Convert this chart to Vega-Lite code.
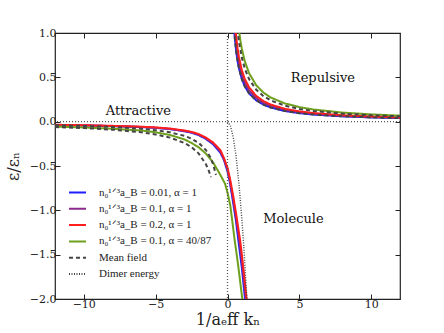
{
  "$schema": "https://vega.github.io/schema/vega-lite/v6.json",
  "width": 345,
  "height": 266,
  "autosize": {"type": "none"},
  "padding": {"left": 55, "top": 33, "right": 44, "bottom": 34},
  "config": {
    "view": {"stroke": "#222", "strokeWidth": 1.2},
    "font": "DejaVu Serif",
    "axis": {"domain": false, "grid": false, "tickSize": -5, "tickColor": "#222", "tickWidth": 1, "labelFont": "DejaVu Serif", "labelFontSize": 11, "labelColor": "#222", "titleFont": "DejaVu Serif", "titleFontSize": 16, "titleFontWeight": "normal", "titleColor": "#222"},
    "legend": {"padding": 0, "labelFont": "Liberation Serif", "labelFontSize": 11, "labelColor": "#222"}
  },
  "datasets": {
    "curves": [
      {"s":"a","g":"a1","x":-12,"y":-0.037},{"s":"a","g":"a1","x":-10,"y":-0.043},{"s":"a","g":"a1","x":-8,"y":-0.05},{"s":"a","g":"a1","x":-6,"y":-0.061},{"s":"a","g":"a1","x":-5,"y":-0.07},{"s":"a","g":"a1","x":-4,"y":-0.084},{"s":"a","g":"a1","x":-3,"y":-0.108},{"s":"a","g":"a1","x":-2.5,"y":-0.125},{"s":"a","g":"a1","x":-2,"y":-0.152},{"s":"a","g":"a1","x":-1.5,"y":-0.195},{"s":"a","g":"a1","x":-1,"y":-0.255},{"s":"a","g":"a1","x":-0.5,"y":-0.35},{"s":"a","g":"a1","x":-0.25,"y":-0.43},{"s":"a","g":"a1","x":0,"y":-0.56},{"s":"a","g":"a1","x":0.17,"y":-0.69},{"s":"a","g":"a1","x":0.4,"y":-0.92},{"s":"a","g":"a1","x":0.6,"y":-1.13},{"s":"a","g":"a1","x":0.75,"y":-1.33},{"s":"a","g":"a1","x":1.0,"y":-1.65},{"s":"a","g":"a1","x":1.22,"y":-2.0},{"s":"a","g":"a1","x":1.3,"y":-2.12},
      {"s":"a","g":"a2","x":0.46,"y":1.04},{"s":"a","g":"a2","x":0.5,"y":0.96},{"s":"a","g":"a2","x":0.6,"y":0.8},{"s":"a","g":"a2","x":0.7,"y":0.686},{"s":"a","g":"a2","x":0.8,"y":0.6},{"s":"a","g":"a2","x":1,"y":0.48},{"s":"a","g":"a2","x":1.2,"y":0.4},{"s":"a","g":"a2","x":1.5,"y":0.32},{"s":"a","g":"a2","x":2,"y":0.24},{"s":"a","g":"a2","x":2.5,"y":0.192},{"s":"a","g":"a2","x":3,"y":0.16},{"s":"a","g":"a2","x":4,"y":0.12},{"s":"a","g":"a2","x":5,"y":0.096},{"s":"a","g":"a2","x":6,"y":0.08},{"s":"a","g":"a2","x":8,"y":0.06},{"s":"a","g":"a2","x":10,"y":0.048},{"s":"a","g":"a2","x":12,"y":0.04},
      {"s":"b","g":"b1","x":-12,"y":-0.036},{"s":"b","g":"b1","x":-10,"y":-0.042},{"s":"b","g":"b1","x":-8,"y":-0.049},{"s":"b","g":"b1","x":-6,"y":-0.059},{"s":"b","g":"b1","x":-5,"y":-0.068},{"s":"b","g":"b1","x":-4,"y":-0.081},{"s":"b","g":"b1","x":-3,"y":-0.104},{"s":"b","g":"b1","x":-2.5,"y":-0.12},{"s":"b","g":"b1","x":-2,"y":-0.146},{"s":"b","g":"b1","x":-1.5,"y":-0.188},{"s":"b","g":"b1","x":-1,"y":-0.245},{"s":"b","g":"b1","x":-0.5,"y":-0.335},{"s":"b","g":"b1","x":-0.25,"y":-0.42},{"s":"b","g":"b1","x":0,"y":-0.54},{"s":"b","g":"b1","x":0.17,"y":-0.665},{"s":"b","g":"b1","x":0.4,"y":-0.88},{"s":"b","g":"b1","x":0.6,"y":-1.085},{"s":"b","g":"b1","x":0.8,"y":-1.31},{"s":"b","g":"b1","x":1.0,"y":-1.57},{"s":"b","g":"b1","x":1.2,"y":-1.87},{"s":"b","g":"b1","x":1.3,"y":-2.03},{"s":"b","g":"b1","x":1.35,"y":-2.1},
      {"s":"b","g":"b2","x":0.5,"y":1.06},{"s":"b","g":"b2","x":0.6,"y":0.883},{"s":"b","g":"b2","x":0.7,"y":0.757},{"s":"b","g":"b2","x":0.8,"y":0.663},{"s":"b","g":"b2","x":1,"y":0.53},{"s":"b","g":"b2","x":1.2,"y":0.442},{"s":"b","g":"b2","x":1.5,"y":0.353},{"s":"b","g":"b2","x":2,"y":0.265},{"s":"b","g":"b2","x":2.5,"y":0.212},{"s":"b","g":"b2","x":3,"y":0.177},{"s":"b","g":"b2","x":4,"y":0.133},{"s":"b","g":"b2","x":5,"y":0.106},{"s":"b","g":"b2","x":6,"y":0.088},{"s":"b","g":"b2","x":8,"y":0.066},{"s":"b","g":"b2","x":10,"y":0.053},{"s":"b","g":"b2","x":12,"y":0.044},
      {"s":"c","g":"c1","x":-12,"y":-0.035},{"s":"c","g":"c1","x":-10,"y":-0.04},{"s":"c","g":"c1","x":-8,"y":-0.047},{"s":"c","g":"c1","x":-6,"y":-0.057},{"s":"c","g":"c1","x":-5,"y":-0.065},{"s":"c","g":"c1","x":-4,"y":-0.078},{"s":"c","g":"c1","x":-3,"y":-0.1},{"s":"c","g":"c1","x":-2.5,"y":-0.115},{"s":"c","g":"c1","x":-2,"y":-0.14},{"s":"c","g":"c1","x":-1.5,"y":-0.18},{"s":"c","g":"c1","x":-1,"y":-0.235},{"s":"c","g":"c1","x":-0.5,"y":-0.32},{"s":"c","g":"c1","x":-0.25,"y":-0.41},{"s":"c","g":"c1","x":0,"y":-0.52},{"s":"c","g":"c1","x":0.17,"y":-0.64},{"s":"c","g":"c1","x":0.4,"y":-0.84},{"s":"c","g":"c1","x":0.6,"y":-1.04},{"s":"c","g":"c1","x":0.87,"y":-1.33},{"s":"c","g":"c1","x":1.0,"y":-1.5},{"s":"c","g":"c1","x":1.15,"y":-1.72},{"s":"c","g":"c1","x":1.33,"y":-2.0},{"s":"c","g":"c1","x":1.4,"y":-2.1},
      {"s":"c","g":"c2","x":0.55,"y":1.055},{"s":"c","g":"c2","x":0.6,"y":0.967},{"s":"c","g":"c2","x":0.7,"y":0.829},{"s":"c","g":"c2","x":0.8,"y":0.725},{"s":"c","g":"c2","x":1,"y":0.58},{"s":"c","g":"c2","x":1.2,"y":0.483},{"s":"c","g":"c2","x":1.5,"y":0.387},{"s":"c","g":"c2","x":2,"y":0.29},{"s":"c","g":"c2","x":2.5,"y":0.232},{"s":"c","g":"c2","x":3,"y":0.193},{"s":"c","g":"c2","x":4,"y":0.145},{"s":"c","g":"c2","x":5,"y":0.116},{"s":"c","g":"c2","x":6,"y":0.097},{"s":"c","g":"c2","x":8,"y":0.0725},{"s":"c","g":"c2","x":10,"y":0.058},{"s":"c","g":"c2","x":12,"y":0.048},
      {"s":"d","g":"d1","x":-12,"y":-0.055},{"s":"d","g":"d1","x":-10,"y":-0.065},{"s":"d","g":"d1","x":-8,"y":-0.08},{"s":"d","g":"d1","x":-6,"y":-0.1},{"s":"d","g":"d1","x":-5,"y":-0.12},{"s":"d","g":"d1","x":-4,"y":-0.15},{"s":"d","g":"d1","x":-3,"y":-0.2},{"s":"d","g":"d1","x":-2.5,"y":-0.24},{"s":"d","g":"d1","x":-2,"y":-0.29},{"s":"d","g":"d1","x":-1.5,"y":-0.36},{"s":"d","g":"d1","x":-1,"y":-0.46},{"s":"d","g":"d1","x":-0.75,"y":-0.53},{"s":"d","g":"d1","x":-0.5,"y":-0.6},{"s":"d","g":"d1","x":-0.17,"y":-0.7},{"s":"d","g":"d1","x":0,"y":-0.8},{"s":"d","g":"d1","x":0.2,"y":-0.95},{"s":"d","g":"d1","x":0.47,"y":-1.3},{"s":"d","g":"d1","x":0.75,"y":-1.63},{"s":"d","g":"d1","x":1.03,"y":-2.0},{"s":"d","g":"d1","x":1.1,"y":-2.1},
      {"s":"d","g":"d2","x":0.78,"y":1.05},{"s":"d","g":"d2","x":0.9,"y":0.911},{"s":"d","g":"d2","x":1,"y":0.82},{"s":"d","g":"d2","x":1.2,"y":0.683},{"s":"d","g":"d2","x":1.5,"y":0.547},{"s":"d","g":"d2","x":2,"y":0.41},{"s":"d","g":"d2","x":2.5,"y":0.328},{"s":"d","g":"d2","x":3,"y":0.273},{"s":"d","g":"d2","x":4,"y":0.205},{"s":"d","g":"d2","x":5,"y":0.164},{"s":"d","g":"d2","x":6,"y":0.137},{"s":"d","g":"d2","x":8,"y":0.1025},{"s":"d","g":"d2","x":10,"y":0.082},{"s":"d","g":"d2","x":12,"y":0.068},
      {"s":"mf","g":"m1","x":-12,"y":-0.04},{"s":"mf","g":"m1","x":-10,"y":-0.048},{"s":"mf","g":"m1","x":-8,"y":-0.06},{"s":"mf","g":"m1","x":-6,"y":-0.08},{"s":"mf","g":"m1","x":-5,"y":-0.096},{"s":"mf","g":"m1","x":-4,"y":-0.12},{"s":"mf","g":"m1","x":-3,"y":-0.16},{"s":"mf","g":"m1","x":-2.5,"y":-0.192},{"s":"mf","g":"m1","x":-2,"y":-0.24},{"s":"mf","g":"m1","x":-1.5,"y":-0.32},{"s":"mf","g":"m1","x":-1.2,"y":-0.4},{"s":"mf","g":"m1","x":-1,"y":-0.48},{"s":"mf","g":"m1","x":-0.8,"y":-0.6},
      {"s":"mf","g":"m2","x":-12,"y":-0.06},{"s":"mf","g":"m2","x":-10,"y":-0.072},{"s":"mf","g":"m2","x":-8,"y":-0.09},{"s":"mf","g":"m2","x":-6,"y":-0.12},{"s":"mf","g":"m2","x":-5,"y":-0.144},{"s":"mf","g":"m2","x":-4,"y":-0.18},{"s":"mf","g":"m2","x":-3,"y":-0.24},{"s":"mf","g":"m2","x":-2.5,"y":-0.288},{"s":"mf","g":"m2","x":-2,"y":-0.36},{"s":"mf","g":"m2","x":-1.5,"y":-0.48},{"s":"mf","g":"m2","x":-1.3,"y":-0.554},{"s":"mf","g":"m2","x":-1.15,"y":-0.626},
      {"s":"mf","g":"m3","x":0.46,"y":1.04},{"s":"mf","g":"m3","x":0.5,"y":0.96},{"s":"mf","g":"m3","x":0.6,"y":0.8},{"s":"mf","g":"m3","x":0.7,"y":0.686},{"s":"mf","g":"m3","x":0.8,"y":0.6},{"s":"mf","g":"m3","x":1,"y":0.48},{"s":"mf","g":"m3","x":1.2,"y":0.4},{"s":"mf","g":"m3","x":1.5,"y":0.32},{"s":"mf","g":"m3","x":2,"y":0.24},{"s":"mf","g":"m3","x":2.5,"y":0.192},{"s":"mf","g":"m3","x":3,"y":0.16},{"s":"mf","g":"m3","x":4,"y":0.12},{"s":"mf","g":"m3","x":5,"y":0.096},{"s":"mf","g":"m3","x":6,"y":0.08},{"s":"mf","g":"m3","x":8,"y":0.06},{"s":"mf","g":"m3","x":10,"y":0.048},{"s":"mf","g":"m3","x":12,"y":0.04},
      {"s":"mf","g":"m4","x":0.69,"y":1.043},{"s":"mf","g":"m4","x":0.8,"y":0.9},{"s":"mf","g":"m4","x":1,"y":0.72},{"s":"mf","g":"m4","x":1.2,"y":0.6},{"s":"mf","g":"m4","x":1.5,"y":0.48},{"s":"mf","g":"m4","x":2,"y":0.36},{"s":"mf","g":"m4","x":2.5,"y":0.288},{"s":"mf","g":"m4","x":3,"y":0.24},{"s":"mf","g":"m4","x":4,"y":0.18},{"s":"mf","g":"m4","x":5,"y":0.144},{"s":"mf","g":"m4","x":6,"y":0.12},{"s":"mf","g":"m4","x":8,"y":0.09},{"s":"mf","g":"m4","x":10,"y":0.072},{"s":"mf","g":"m4","x":12,"y":0.06},
      {"s":"dim","g":"x1","x":0,"y":0},{"s":"dim","g":"x1","x":0.2,"y":-0.044},{"s":"dim","g":"x1","x":0.4,"y":-0.176},{"s":"dim","g":"x1","x":0.6,"y":-0.396},{"s":"dim","g":"x1","x":0.8,"y":-0.704},{"s":"dim","g":"x1","x":1.0,"y":-1.1},{"s":"dim","g":"x1","x":1.1,"y":-1.331},{"s":"dim","g":"x1","x":1.2,"y":-1.584},{"s":"dim","g":"x1","x":1.3,"y":-1.859},{"s":"dim","g":"x1","x":1.4,"y":-2.156}
    ],
    "notes": [
      {"label": "Attractive", "x": -6.2, "y": 0.115},
      {"label": "Repulsive", "x": 6.64, "y": 0.49},
      {"label": "Molecule", "x": 4.59, "y": -1.1}
    ],
    "zeros": [{"v": 0}]
  },
  "resolve": {"axis": {"x": "independent", "y": "independent"}},
  "layer": [
    {
      "data": {"name": "curves"},
      "transform": [{"filter": "indexof(['a','b','c','d'], datum.s) >= 0"}],
      "mark": {"type": "line", "strokeWidth": 2, "clip": true},
      "encoding": {
        "x": {"field": "x", "type": "quantitative", "scale": {"domain": [-12, 12], "nice": false, "zero": false},
              "axis": {"orient": "bottom", "values": [-10, -5, 0, 5, 10], "title": "1/aₑff kₙ", "labelPadding": 4, "titlePadding": 2}},
        "y": {"field": "y", "type": "quantitative", "scale": {"domain": [-2, 1], "nice": false, "zero": false},
              "axis": {"orient": "left", "values": [-2, -1.5, -1, -0.5, 0, 0.5, 1], "format": ".1f", "title": "ε/εₙ", "labelPadding": 4, "titlePadding": 8}},
        "color": {"field": "s", "type": "nominal",
                  "scale": {"domain": ["a", "b", "c", "d", "mf", "dim"], "range": ["#1e1eff", "#8c2a8c", "#ff1e1e", "#6ea01e", "#444444", "#444444"]},
                  "legend": {"orient": "none", "legendX": 13, "legendY": 150, "title": null, "symbolType": "stroke", "symbolSize": 289, "symbolStrokeWidth": 2, "rowPadding": 1.3, "labelOffset": 12,
                             "labelExpr": "{'a': 'n₀¹ᐟ³a_B = 0.01, α = 1', 'b': 'n₀¹ᐟ³a_B = 0.1, α = 1', 'c': 'n₀¹ᐟ³a_B = 0.2, α = 1', 'd': 'n₀¹ᐟ³a_B = 0.1, α = 40/87', 'mf': 'Mean field', 'dim': 'Dimer energy'}[datum.label]"}},
        "strokeDash": {"field": "s", "type": "nominal",
                       "scale": {"domain": ["a", "b", "c", "d", "mf", "dim"], "range": [[1, 0], [1, 0], [1, 0], [1, 0], [4, 3], [1, 1.5]]},
                       "legend": {"orient": "none", "legendX": 13, "legendY": 150, "title": null, "symbolType": "stroke", "symbolSize": 289, "symbolStrokeWidth": 2, "rowPadding": 1.3, "labelOffset": 12,
                             "labelExpr": "{'a': 'n₀¹ᐟ³a_B = 0.01, α = 1', 'b': 'n₀¹ᐟ³a_B = 0.1, α = 1', 'c': 'n₀¹ᐟ³a_B = 0.2, α = 1', 'd': 'n₀¹ᐟ³a_B = 0.1, α = 40/87', 'mf': 'Mean field', 'dim': 'Dimer energy'}[datum.label]"}},
        "detail": {"field": "g"}
      }
    },
    {
      "data": {"name": "curves"},
      "transform": [{"filter": "datum.s == 'mf'"}],
      "mark": {"type": "line", "strokeWidth": 2, "clip": true},
      "encoding": {
        "x": {"field": "x", "type": "quantitative", "axis": null},
        "y": {"field": "y", "type": "quantitative", "axis": null},
        "color": {"field": "s", "type": "nominal"},
        "strokeDash": {"field": "s", "type": "nominal"},
        "detail": {"field": "g"}
      }
    },
    {
      "data": {"name": "curves"},
      "transform": [{"filter": "datum.s == 'dim'"}],
      "mark": {"type": "line", "strokeWidth": 1.4, "clip": true},
      "encoding": {
        "x": {"field": "x", "type": "quantitative", "axis": {"orient": "top", "values": [-10, -5, 0, 5, 10], "labels": false, "title": null}},
        "y": {"field": "y", "type": "quantitative", "axis": {"orient": "right", "values": [-2, -1.5, -1, -0.5, 0, 0.5, 1], "labels": false, "title": null}},
        "color": {"field": "s", "type": "nominal"},
        "strokeDash": {"field": "s", "type": "nominal"},
        "detail": {"field": "g"}
      }
    },
    {
      "data": {"name": "zeros"},
      "mark": {"type": "rule", "color": "#555555", "strokeWidth": 1.3, "strokeDash": [1, 2]},
      "encoding": {"y": {"field": "v", "type": "quantitative", "axis": null}}
    },
    {
      "data": {"name": "zeros"},
      "mark": {"type": "rule", "color": "#555555", "strokeWidth": 1.3, "strokeDash": [1, 2]},
      "encoding": {"x": {"field": "v", "type": "quantitative", "axis": null}}
    },
    {
      "data": {"name": "notes"},
      "mark": {"type": "text", "font": "DejaVu Serif", "fontSize": 13, "color": "#111", "align": "center", "baseline": "middle"},
      "encoding": {
        "x": {"field": "x", "type": "quantitative", "axis": null},
        "y": {"field": "y", "type": "quantitative", "axis": null},
        "text": {"field": "label"}
      }
    }
  ]
}
